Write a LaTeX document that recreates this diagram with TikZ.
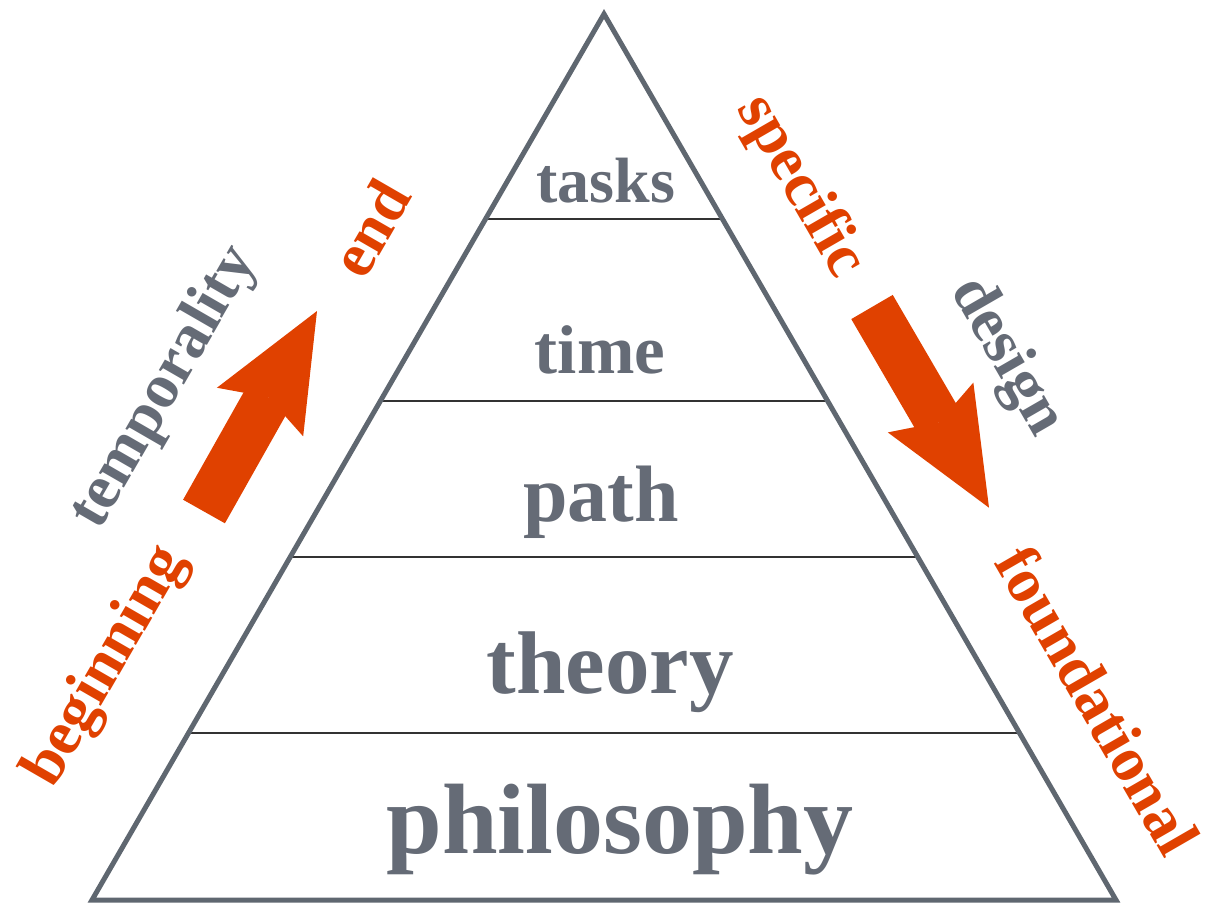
\documentclass[tikz,border=0pt]{standalone}
\usepackage{fontspec}
\setmainfont{Liberation Serif}
\usetikzlibrary{arrows.meta,calc}
\definecolor{slateGray}{HTML}{656B76}
\definecolor{edgeGray}{HTML}{5F6770}
\definecolor{rustOrange}{HTML}{E04100}

\begin{document}
\begin{tikzpicture}[
  x=1pt, y=-1pt,
  layer/.style={font=\bfseries\fontsize{#1}{#1}\selectfont, text=slateGray,
                inner sep=0pt, anchor=base},
  sidelabel/.style={font=\bfseries\fontsize{63}{63}\selectfont, inner sep=0pt},
  hot/.style={sidelabel, text=rustOrange},
  cool/.style={sidelabel, text=slateGray},
  divider/.style={line width=2pt, draw=black!80},
  outline/.style={line width=5pt, draw=edgeGray, line join=miter},
  fatarrow/.style={line width=48pt, draw=rustOrange,
                   -{Stealth[length=116pt, width=99pt, inset=17pt, line width=0pt]}}
]
\useasboundingbox (0,0) rectangle (1217,905);

\coordinate (apex) at (604,14);
\coordinate (baseL) at (92,900);
\coordinate (baseR) at (1116,900);

\foreach \t in {0.2309,0.4369,0.6126,0.8119}
  \draw[divider] ($(apex)!\t!(baseL)$) -- ($(apex)!\t!(baseR)$);
\draw[outline] (apex) -- (baseL) -- (baseR) -- cycle;

\node[layer=64] (tasks) at (606,202) {tasks};
\node[layer=69] (time) at (600,373) {time};
\node[layer=80] (path) at (601,521) {path};
\node[layer=89] (theory) at (610,693) {theory};
\node[layer=100] (philosophy) at (620,853) {philosophy};

\node[hot, rotate=60] (beginning) at (107,667) {beginning};
\node[cool, rotate=60] (temporality) at (165,388) {temporality};
\node[hot, rotate=60] (end) at (370,228) {end};
\node[hot, rotate=-60] (specific) at (800,187) {specific};
\node[cool, rotate=-60] (design) at (1006,357) {design};
\node[hot, rotate=-60] (foundational) at (1098,700) {foundational};

\coordinate (riseTail) at (204,511.5);
\coordinate (riseTip) at (317,311);
\coordinate (fallTail) at (872,307);
\coordinate (fallTip) at (989,507.7);
\draw[fatarrow] (riseTail) -- (riseTip);
\draw[fatarrow] (fallTail) -- (fallTip);
\end{tikzpicture}
\end{document}
